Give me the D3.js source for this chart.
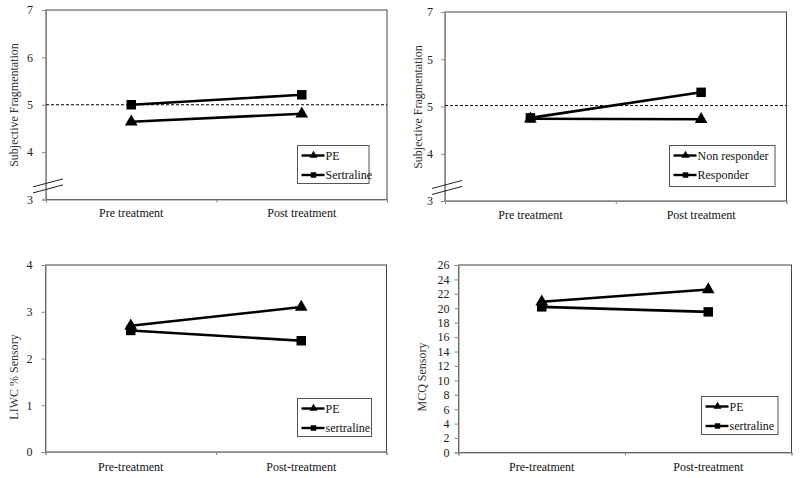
<!DOCTYPE html>
<html><head><meta charset="utf-8">
<script src="https://cdn.jsdelivr.net/npm/d3@7"></script>
<style>body{margin:0;background:#fff}svg{display:block}text{font-family:"Liberation Serif","Times New Roman",serif}</style>
</head><body><svg id="c" width="800" height="478"></svg>
<script>
// ---- data ----
const categoriesA = ["Pre treatment", "Post treatment"];
const categoriesB = ["Pre-treatment", "Post-treatment"];

const frag1PE = [4.64, 4.81];
const frag1Sertraline = [5.0, 5.21];
const frag2NonResponder = [4.74, 4.73];
const frag2Responder = [4.76, 5.30];
const liwcPE = [2.7, 3.1];
const liwcSertraline = [2.6, 2.38];
const mcqPE = [20.9, 22.6];
const mcqSertraline = [20.2, 19.5];

const fragTicks = [3, 4, 5, 6, 7];
const fragTickLabels1 = ["3", "4", "5", "6", "7"];
const fragTickLabels2 = ["3", "4", "5", "5", "7"];
const liwcTicks = [0, 1, 2, 3, 4];
const mcqTicks = [0, 2, 4, 6, 8, 10, 12, 14, 16, 18, 20, 22, 24, 26];

const legend1 = ["PE", "Sertraline"];
const legend2 = ["Non responder", "Responder"];
const legend3 = ["PE", "sertraline"];

// ---- layout ----
const panels = [
  {x0: 46, x1: 387, y0: 10, y1: 199.5, cats: categoriesA, dom: [3, 7], ticks: fragTicks, labels: fragTickLabels1,
   series: [frag1PE, frag1Sertraline], names: legend1, title: "Subjective Fragmentation", tx: 14, ty: 105,
   ref: 5, brk: true, tickPad: 13, catY: 217, leg: {x: 297.5, y: 145.5, w: 71.5, h: 38}},
  {x0: 445, x1: 786.5, y0: 12, y1: 201, cats: categoriesA, dom: [3, 7], ticks: fragTicks, labels: fragTickLabels2,
   series: [frag2NonResponder, frag2Responder], names: legend2, title: "Subjective Fragmentation", tx: 418, ty: 107,
   ref: 5.02, brk: true, tickPad: 12, catY: 219, leg: {x: 669.5, y: 145.5, w: 105.5, h: 41}},
  {x0: 45.5, x1: 386.5, y0: 265, y1: 452, cats: categoriesB, dom: [0, 4], ticks: liwcTicks, labels: liwcTicks.map(String),
   series: [liwcPE, liwcSertraline], names: legend3, title: "LIWC % Sensory", tx: 14, ty: 377,
   ref: null, brk: false, tickPad: 13, catY: 471, leg: {x: 297.5, y: 398.5, w: 74, h: 38}},
  {x0: 458.5, x1: 791.5, y0: 265, y1: 452.5, cats: categoriesB, dom: [0, 26], ticks: mcqTicks, labels: mcqTicks.map(String),
   series: [mcqPE, mcqSertraline], names: legend3, title: "MCQ Sensory", tx: 422, ty: 377,
   ref: null, brk: false, tickPad: 9, catY: 471, leg: {x: 701.5, y: 396.5, w: 76.5, h: 38}}
];

const FS = 12;
const svg = d3.select("#c");
const tri = d3.symbol().type(d3.symbolTriangle);
const sq = d3.symbol().type(d3.symbolSquare);

panels.forEach(p => {
  const g = svg.append("g");
  const x = d3.scalePoint().domain(p.cats).range([p.x0, p.x1]).padding(0.5);
  const y = d3.scaleLinear().domain(p.dom).range([p.y1, p.y0]);

  // frame
  g.append("rect").attr("x", p.x0).attr("y", p.y0).attr("width", p.x1 - p.x0).attr("height", p.y1 - p.y0)
    .attr("fill", "none").attr("stroke", "#444").attr("stroke-width", 1);

  // y axis
  const ya = d3.axisLeft(y).tickValues(p.ticks).tickSize(4).tickPadding(p.tickPad - 4)
    .tickFormat((d, i) => p.labels[i]);
  const yg = g.append("g").attr("transform", `translate(${p.x0},0)`).call(ya);
  yg.attr("font-family", null);
  yg.select(".domain").attr("stroke", "#888");
  yg.selectAll(".tick line").attr("stroke", "#888");
  yg.selectAll("text").attr("font-size", FS).attr("fill", "#222");

  // x axis: ticks at boundaries
  const xb = d3.scaleLinear().domain([0, 2]).range([p.x0, p.x1]);
  const xa = d3.axisBottom(xb).tickValues([0, 1, 2]).tickSize(3).tickFormat("");
  const xg = g.append("g").attr("transform", `translate(0,${p.y1})`).call(xa);
  xg.select(".domain").attr("stroke", "#888");
  xg.selectAll(".tick line").attr("stroke", "#888");
  g.selectAll(".cat").data(p.cats).enter().append("text")
    .attr("x", d => x(d)).attr("y", p.catY).attr("text-anchor", "middle")
    .attr("font-size", FS).attr("fill", "#111").text(d => d);

  // y title
  g.append("text").attr("transform", `translate(${p.tx},${p.ty}) rotate(-90)`)
    .attr("text-anchor", "middle").attr("font-size", FS).attr("fill", "#333")
    .attr("dy", "0.35em").text(p.title);

  // reference dashed line
  if (p.ref !== null) {
    g.append("line").attr("x1", p.x0).attr("x2", p.x1).attr("y1", y(p.ref)).attr("y2", y(p.ref))
      .attr("stroke", "#000").attr("stroke-width", 1).attr("stroke-dasharray", "3,2");
  }

  // axis break
  if (p.brk) {
    const bx = p.x0 - 13, by = y(3.35);
    [0, 6].forEach(off => {
      g.append("line").attr("x1", bx).attr("y1", by + off + 4).attr("x2", bx + 30).attr("y2", by + off - 4)
        .attr("stroke", "#222").attr("stroke-width", 1);
    });
  }

  // series
  const line = d3.line().x((d, i) => x(p.cats[i])).y(d => y(d));
  const syms = [tri.size(70), sq.size(90)];
  [1, 0].forEach(si => {
    const vals = p.series[si];
    g.append("path").attr("d", line(vals)).attr("fill", "none").attr("stroke", "#000").attr("stroke-width", 2.6);
    g.selectAll(null).data(vals).enter().append("path")
      .attr("transform", (d, i) => `translate(${x(p.cats[i])},${y(d)})`)
      .attr("d", syms[si]).attr("fill", "#000");
  });

  // legend
  const L = p.leg;
  g.append("rect").attr("x", L.x).attr("y", L.y).attr("width", L.w).attr("height", L.h)
    .attr("fill", "#fff").attr("stroke", "#555").attr("stroke-width", 1);
  const lsyms = [tri.size(28), sq.size(30)];
  p.names.forEach((n, i) => {
    const ly = L.y + 10 + i * 19.5;
    g.append("line").attr("x1", L.x + 4).attr("x2", L.x + 27).attr("y1", ly).attr("y2", ly)
      .attr("stroke", "#000").attr("stroke-width", 2.4);
    g.append("path").attr("transform", `translate(${L.x + 16},${ly})`).attr("d", lsyms[i]).attr("fill", "#000");
    g.append("text").attr("x", L.x + 28).attr("y", ly).attr("dy", "0.35em")
      .attr("font-size", FS).attr("fill", "#111").text(n);
  });
});
</script></body></html>
